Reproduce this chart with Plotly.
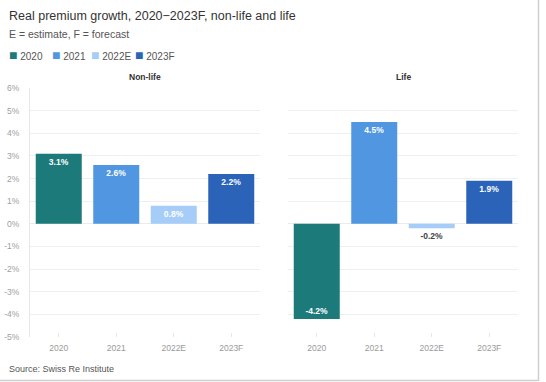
import plotly.graph_objects as go
from plotly.subplots import make_subplots

# ---- data ----
years = ["2020", "2021", "2022E", "2023F"]
nonlife = [3.1, 2.6, 0.8, 2.2]
life = [-4.2, 4.5, -0.2, 1.9]
colors = ["#1d7a7a", "#5196e1", "#a6cdf7", "#2b63b9"]
panels = ["Non-life", "Life"]
yticks = [-5, -4, -3, -2, -1, 0, 1, 2, 3, 4, 5, 6]
ytick_text = [f"{v}%" for v in yticks]

W, H = 546, 382
ML, MR, MT, MB = 30, 28, 88, 45
PW, PH = W - ML - MR, H - MT - MB

def px_x(px):
    return (px - ML) / PW

def px_y(py):
    return (H - MB - py) / PH

FONT = "Liberation Sans, Arial, sans-serif"

fig = make_subplots(rows=1, cols=2, shared_yaxes=True, horizontal_spacing=0.0)

for col, vals in enumerate([nonlife, life], start=1):
    for i, (yr, v) in enumerate(zip(years, vals)):
        small = abs(v) < 0.5
        fig.add_trace(
            go.Bar(
                x=[yr], y=[v], name=yr,
                marker=dict(color=colors[i], line=dict(width=0)),
                text=[f"{v}%"],
                textposition="outside" if small else "inside",
                insidetextanchor="end",
                textfont=dict(family=FONT, size=8.5,
                              color="#444" if small else "white",
                              weight="bold"),
                cliponaxis=False,
                showlegend=False,
                hoverinfo="skip",
            ),
            row=1, col=col,
        )

fig.update_layout(
    width=W, height=H,
    margin=dict(l=ML, r=MR, t=MT, b=MB, autoexpand=False),
    paper_bgcolor="white", plot_bgcolor="white",
    barmode="relative", bargap=0.2,
    font=dict(family=FONT, color="#555"),
    showlegend=False,
    uniformtext=dict(minsize=8, mode="show"),
)

fig.update_layout(
    xaxis=dict(domain=[0, px_x(260)]),
    xaxis2=dict(domain=[px_x(288), 1]),
)

fig.update_xaxes(
    automargin=False,
    categoryorder="array", categoryarray=years,
    showgrid=False, zeroline=False, showline=False,
    ticks="inside", ticklen=4, tickcolor="#e6e6e6",
    tickfont=dict(family=FONT, size=8.5, color="#9a9a9a"),
    ticklabelstandoff=4,
)
fig.update_yaxes(
    automargin=False,
    range=[-5, 6], tickvals=yticks, ticktext=ytick_text,
    showgrid=True, gridcolor="#efefef", gridwidth=1,
    zeroline=True, zerolinecolor="#ebebeb", zerolinewidth=1,
    ticks="", tickfont=dict(family=FONT, size=8.5, color="#a0a0a0"),
)
fig.update_yaxes(showline=True, linecolor="#e8e8e8", linewidth=1,
                 ticklabelstandoff=8, row=1, col=1)
fig.update_yaxes(showticklabels=False, showline=False, row=1, col=2)

ann = []
ann.append(dict(x=px_x(7), y=px_y(16), xref="paper", yref="paper",
                xanchor="left", yanchor="middle", showarrow=False,
                text="Real premium growth, 2020\u22122023F, non-life and life",
                font=dict(family=FONT, size=12.5, color="#333")))
ann.append(dict(x=px_x(7), y=px_y(34), xref="paper", yref="paper",
                xanchor="left", yanchor="middle", showarrow=False,
                text="E = estimate, F = forecast",
                font=dict(family=FONT, size=10.5, color="#555")))
legend_x = [7, 50, 89, 133]
for i, yr in enumerate(years):
    ann.append(dict(x=px_x(legend_x[i]), y=px_y(55), xref="paper", yref="paper",
                    xanchor="left", yanchor="middle", showarrow=False,
                    text=f"<span style='color:{colors[i]};font-size:14px'>\u25A0</span> {yr}",
                    font=dict(family=FONT, size=10, color="#555")))
panel_cx = [(30 + 260) / 2, (288 + 518) / 2]
for name, cx in zip(panels, panel_cx):
    ann.append(dict(x=px_x(cx), y=px_y(77), xref="paper", yref="paper",
                    xanchor="center", yanchor="middle", showarrow=False,
                    text=f"<b>{name}</b>",
                    font=dict(family=FONT, size=8.5, color="#333")))
ann.append(dict(x=px_x(7), y=px_y(369), xref="paper", yref="paper",
                xanchor="left", yanchor="middle", showarrow=False,
                text="Source: Swiss Re Institute",
                font=dict(family=FONT, size=9, color="#555")))
fig.update_layout(annotations=ann)

# screenshot frame edges
fig.add_shape(type="line", xref="paper", yref="paper",
              x0=px_x(538.5), x1=px_x(538.5), y0=px_y(0), y1=px_y(381),
              line=dict(color="#cfcfcf", width=1.5))
fig.add_shape(type="line", xref="paper", yref="paper",
              x0=px_x(0), x1=px_x(538.5), y0=px_y(380.5), y1=px_y(380.5),
              line=dict(color="#cfcfcf", width=1.5))

fig.write_html(
    "out.html",
    config={"displayModeBar": False, "staticPlot": True},
    post_script="document.body.style.margin='0';document.body.style.padding='0';",
)
